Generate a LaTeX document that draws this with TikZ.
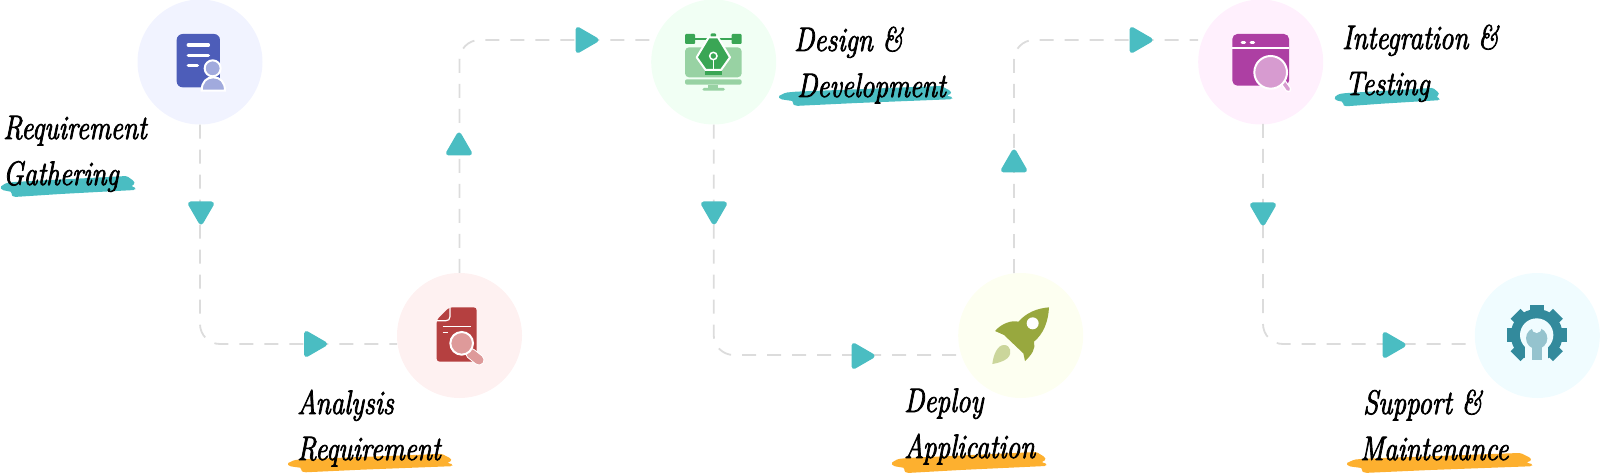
\documentclass[tikz,border=0pt]{standalone}
\usepackage{fontspec}
\usepackage{xcolor}
\usetikzlibrary{shapes.geometric}
\newfontfamily\handfont{Latin Modern Roman}[FakeBold=2.2,FakeStretch=.8]
\definecolor{tealmark}{HTML}{4ABDC2}
\definecolor{orangemark}{HTML}{FDB02F}
\definecolor{dashgray}{HTML}{DCDCDC}
\definecolor{reqbg}{HTML}{F1F3FF}\definecolor{reqdark}{HTML}{4D5DB9}\definecolor{reqlight}{HTML}{A1AADD}
\definecolor{anabg}{HTML}{FEF1F1}\definecolor{anadark}{HTML}{B54040}\definecolor{analight}{HTML}{DE9A9A}
\definecolor{desbg}{HTML}{F1FFF4}\definecolor{desdark}{HTML}{3AA655}\definecolor{deslight}{HTML}{98D2A3}
\definecolor{depbg}{HTML}{FDFFF1}\definecolor{depdark}{HTML}{98A83E}\definecolor{deplight}{HTML}{CBD69B}
\definecolor{intbg}{HTML}{FFF0FD}\definecolor{intdark}{HTML}{AD3FA3}\definecolor{intlight}{HTML}{D79BD0}
\definecolor{supbg}{HTML}{F0FCFF}\definecolor{supdark}{HTML}{338A9C}\definecolor{suplight}{HTML}{95C3CE}

\begin{document}
\begin{tikzpicture}[
  x=1pt,y=-1pt,
  stepdot/.style={circle,minimum size=125pt,inner sep=0pt},
  link/.style={draw=dashgray,line width=1.8pt,dash pattern=on 14pt off 11pt,rounded corners=20pt},
  tip/.style={regular polygon,regular polygon sides=3,minimum size=24pt,inner sep=0pt,
    fill=tealmark,draw=tealmark,line width=5pt,line join=round},
  lbl/.style={anchor=base west,align=left,inner sep=0pt,
    font=\handfont\fontsize{34}{46}\selectfont\itshape},
  brushstroke/.pic={
    \path[pic actions,rounded corners=1.5pt] (0,12) -- (6,8) -- (14,7) -- (126,1) -- (130,4) -- (133,6)
      -- (134,9) -- (130,11) -- (135,13) -- (134,15) -- (60,19) -- (14,22) -- (11,20) -- (12,17) -- (2,15) -- cycle;
  }
]
\useasboundingbox (0,0) rectangle (1600,473);

% circles behind the icons
\node[stepdot,fill=reqbg] (gather) at (200,62) {};
\node[stepdot,fill=anabg] (analysis) at (459.5,335.5) {};
\node[stepdot,fill=desbg] (design) at (713.7,62) {};
\node[stepdot,fill=depbg] (deploy) at (1020.7,335.5) {};
\node[stepdot,fill=intbg] (integ) at (1260.7,62) {};
\node[stepdot,fill=supbg] (support) at (1537.3,335.5) {};

% free ends of the dashed links
\coordinate (analysisin) at (397,344);
\coordinate (designin) at (652,40);
\coordinate (deployin) at (960,355);
\coordinate (deployout) at (1014,273);
\coordinate (integin) at (1198,40);
\coordinate (integout) at (1263,124);
\coordinate (supportin) at (1476,344);

\draw[link] (gather.south) |- (analysisin);
\draw[link] (analysis.north) |- (designin);
\draw[link] (design.south) |- (deployin);
\draw[link] (deployout) |- (integin);
\draw[link] (integout) |- (supportin);

% triangles on the links
\node[tip,rotate=180] (tipa) at (201,210) {};
\node[tip,rotate=-90] (tipb) at (312.5,344) {};
\node[tip] (tipc) at (459,147) {};
\node[tip,rotate=-90] (tipd) at (584,40) {};
\node[tip,rotate=180] (tipe) at (714,210) {};
\node[tip,rotate=-90] (tipf) at (860,356) {};
\node[tip] (tipg) at (1014,164) {};
\node[tip,rotate=-90] (tiph) at (1138,40) {};
\node[tip,rotate=180] (tipi) at (1263,211) {};
\node[tip,rotate=-90] (tipj) at (1391,345) {};

% brush marks under the second lines
\pic[fill=tealmark,xscale=1.007] at (0,175) {brushstroke};
\pic[fill=orangemark,xscale=1.23,yscale=.88] at (287,453) {brushstroke};
\pic[fill=tealmark,xscale=1.296,yscale=.95] at (778,85) {brushstroke};
\pic[fill=orangemark,xscale=1.156] at (891,451) {brushstroke};
\pic[fill=tealmark,xscale=.785,yscale=.88] at (1334,87) {brushstroke};
\pic[fill=orangemark,xscale=1.385,yscale=.95] at (1346,452) {brushstroke};

% labels
\node[lbl] (gatherlbl) at (3,185) {Requirement\\Gathering};
\node[lbl] (analysislbl) at (297,460) {Analysis\\Requirement};
\node[lbl] (designlbl) at (794,97) {Design \&\\\hspace*{3pt}Development};
\node[lbl] (deploylbl) at (904,458) {Deploy\\Application};
\node[lbl] (integlbl) at (1342,95) {Integration \&\\\hspace*{3pt}Testing};
\node[lbl] (supportlbl) at (1360,460) {\hspace*{3pt}Support \&\\Maintenance};

% sheet with a person
\begin{scope}[shift={(0,0)},scale=1/3]
  \fill[reqdark,rounded corners=6pt] (530,102) rectangle (660,262);
  \draw[white,line width=3.5pt,line cap=round] (565,135) -- (625,135) (565,167) -- (625,167) (565,197) -- (592,197);
  \draw[white,line width=2pt,fill=reqlight] (638,205) circle [radius=24];
  \draw[white,line width=2pt,fill=reqlight] (605,272) .. controls (605,245) and (620,232) .. (640,232)
    .. controls (660,232) and (675,245) .. (675,272) -- cycle;
\end{scope}

% report under a magnifier
\begin{scope}[shift={(280,260)},scale=1/3]
  \fill[anadark,rounded corners=3pt] (508,142) -- (590,142) -- (590,305) -- (470,305) -- (470,180) -- cycle;
  \draw[white,line width=1.2pt] (510,142) -- (510,170) .. controls (510,178) and (505,182) .. (498,182) -- (470,182);
  \draw[white,line width=1.5pt] (488,200) -- (574,200) (488,217) -- (505,217);
  \draw[white,line width=11pt,line cap=round] (572,280) -- (597,300);
  \draw[analight,line width=9pt,line cap=round] (572,280) -- (597,300);
  \draw[white,line width=2pt,fill=analight] (545,250) circle [radius=34];
\end{scope}

% monitor and pen nib
\begin{scope}[shift={(640,0)},scale=1/3]
  \fill[deslight,rounded corners=4pt] (135,142) rectangle (305,232);
  \fill[deslight,rounded corners=2pt] (135,238) rectangle (305,254);
  \fill[deslight] (205,254) rectangle (235,265);
  \fill[deslight,rounded corners=1.5pt] (187,264) rectangle (255,272);
  \draw[desdark,line width=1.5pt] (165,117) -- (275,117);
  \fill[desdark,rounded corners=1pt] (135,102) rectangle (165,132) (275,102) rectangle (305,132) (212,100) rectangle (228,112);
  \draw[white,line width=2pt,fill=desdark,line join=round] (206,112) -- (234,112) -- (270,172) -- (243,210)
    -- (197,210) -- (170,172) -- cycle;
  \draw[white,line width=1.5pt,fill=desdark] (220,168) circle [radius=11];
  \draw[white,line width=1.5pt] (220,180) -- (220,210);
  \fill[desdark] (195,214) rectangle (245,224);
\end{scope}

% rocket and flame
\begin{scope}[shift={(880,260)},scale=1/3]
  \fill[depdark,line join=round] (507,142) .. controls (505,185) and (490,222) .. (462,245)
    .. controls (468,265) and (455,285) .. (435,303) -- (430,280) -- (372,225) -- (345,213)
    .. controls (365,190) and (395,180) .. (415,185) .. controls (440,158) and (470,145) .. (507,142) -- cycle;
  \fill[white] (458,190) circle [radius=18];
  \fill[deplight] (337,312) .. controls (340,285) and (352,255) .. (372,255)
    .. controls (392,255) and (398,280) .. (382,295) .. controls (370,305) and (350,310) .. (337,312) -- cycle;
\end{scope}

% browser window and magnifier
\begin{scope}[shift={(1180,0)},scale=1/3]
  \fill[intdark,rounded corners=5pt] (157,102) rectangle (327,257);
  \draw[white,line width=2pt] (157,145) -- (327,145);
  \draw[white,line width=3pt,line cap=round] (186,128) -- (194,128) (213,128) -- (221,128);
  \draw[white,line width=6pt,line cap=round] (305,240) -- (325,268);
  \draw[intlight,line width=3.5pt,line cap=round] (305,240) -- (325,268);
  \draw[white,line width=2pt,fill=intlight] (272,217) circle [radius=49];
\end{scope}

% gear and wrench
\begin{scope}[shift={(1340,260)},scale=1/3]
  \fill[supdark] (590,225) circle [radius=78];
  \foreach \a in {-135,-90,-45,0,180,45,135}
    \draw[supdark,line width=14pt] (590,225) -- ++(\a:90);
  \fill[supbg] (590,225) circle [radius=50];
  \fill[supbg] (555,225) rectangle (625,320);
  \fill[suplight] (590,235) circle [radius=32];
  \fill[suplight] (577,235) rectangle (605,300);
  \fill[supbg] (590,204) circle [radius=15];
\end{scope}
\end{tikzpicture}
\end{document}
